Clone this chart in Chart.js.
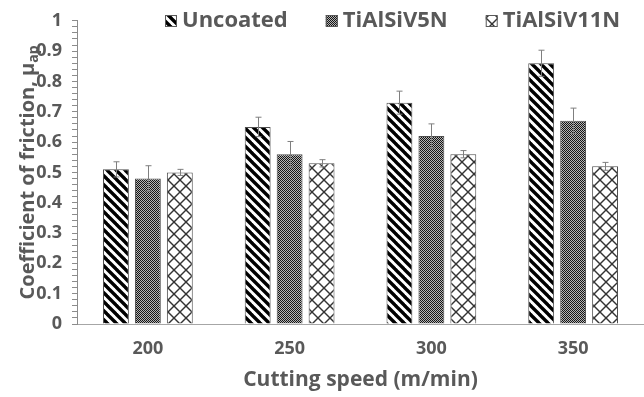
<!DOCTYPE html>
<html>
<head>
<meta charset="utf-8">
<script src="https://cdn.jsdelivr.net/npm/chart.js@4"></script>
<style>
html,body{margin:0;padding:0;background:#fff;}
#wrap{width:644px;height:397px;}
</style>
</head>
<body>
<div id="wrap"><canvas id="c" width="644" height="397"></canvas></div>
<script>
const categories = ['200', '250', '300', '350'];
const seriesNames = ['Uncoated', 'TiAlSiV5N', 'TiAlSiV11N'];
const uncoated = [0.51, 0.65, 0.73, 0.86];
const uncoatedErr = [0.025, 0.032, 0.038, 0.043];
const v5n = [0.48, 0.56, 0.62, 0.67];
const v5nErr = [0.042, 0.042, 0.04, 0.042];
const v11n = [0.50, 0.53, 0.56, 0.52];
const v11nErr = [0.01, 0.012, 0.012, 0.013];
const xTitle = 'Cutting speed (m/min)';
const yTitle = 'Coefficient of friction, μ';
const yTitleSub = 'ap';

const FONT = "'Open Sans', 'Liberation Sans', sans-serif";
const TXT = '#595959';

function makeTile(size, draw) {
  const c = document.createElement('canvas');
  c.width = size; c.height = size;
  const g = c.getContext('2d');
  draw(g, size);
  return document.getElementById('c').getContext('2d').createPattern(c, 'repeat');
}
const stripePat = makeTile(9, (g, s) => {
  g.fillStyle = '#fff'; g.fillRect(0, 0, s, s);
  g.strokeStyle = '#000'; g.lineWidth = 3.4;
  for (const k of [-s, 0, s]) { g.beginPath(); g.moveTo(k - 1, -1); g.lineTo(k + s + 1, s + 1); g.stroke(); }
});
const dotPat = makeTile(2, (g) => {
  g.fillStyle = '#151515'; g.fillRect(0, 0, 1, 1); g.fillRect(1, 1, 1, 1);
  g.fillStyle = '#b5b5b5'; g.fillRect(1, 0, 1, 1); g.fillRect(0, 1, 1, 1);
});
const diamondPat = makeTile(12, (g, s) => {
  g.fillStyle = '#fff'; g.fillRect(0, 0, s, s);
  g.strokeStyle = '#333'; g.lineWidth = 1.4;
  g.beginPath(); g.moveTo(0, 0); g.lineTo(s, s); g.stroke();
  g.beginPath(); g.moveTo(s, 0); g.lineTo(0, s); g.stroke();
});

const errs = [uncoatedErr, v5nErr, v11nErr];

const errorBars = {
  id: 'errorBars',
  afterDatasetsDraw(chart) {
    const ctx = chart.ctx; const ys = chart.scales.y;
    ctx.save(); ctx.strokeStyle = '#7f7f7f'; ctx.lineWidth = 1;
    chart.data.datasets.forEach((ds, di) => {
      const meta = chart.getDatasetMeta(di);
      meta.data.forEach((bar, i) => {
        const v = ds.data[i], e = errs[di][i];
        const x = Math.round(bar.x) + 0.5;
        const y1 = ys.getPixelForValue(v + e), y2 = ys.getPixelForValue(v - e);
        ctx.beginPath();
        ctx.moveTo(x, y1); ctx.lineTo(x, y2);
        ctx.moveTo(x - 3, y1); ctx.lineTo(x + 3, y1);
        ctx.moveTo(x - 3, y2); ctx.lineTo(x + 3, y2);
        ctx.stroke();
      });
    });
    ctx.restore();
  }
};

const customText = {
  id: 'customText',
  afterDraw(chart) {
    const ctx = chart.ctx; const ca = chart.chartArea;
    ctx.save();
    ctx.fillStyle = TXT;
    // x title
    ctx.font = 'bold 21px ' + FONT;
    ctx.textAlign = 'center'; ctx.textBaseline = 'middle';
    ctx.fillText(xTitle, (ca.left + ca.right) / 2, 380);
    // y title (rotated) with subscript
    ctx.save();
    ctx.translate(27, (ca.top + ca.bottom) / 2);
    ctx.rotate(-Math.PI / 2);
    ctx.font = 'bold 20px ' + FONT;
    const w1 = ctx.measureText(yTitle).width;
    ctx.font = 'bold 14px ' + FONT;
    const w2 = ctx.measureText(yTitleSub).width;
    const start = -(w1 + w2) / 2;
    ctx.textAlign = 'left'; ctx.textBaseline = 'alphabetic';
    ctx.font = 'bold 20px ' + FONT;
    ctx.fillText(yTitle, start, 7);
    ctx.font = 'bold 14px ' + FONT;
    ctx.fillText(yTitleSub, start + w1, 11);
    ctx.restore();
    // legend
    ctx.font = 'bold 22px ' + FONT;
    ctx.textAlign = 'left'; ctx.textBaseline = 'middle';
    let x = 165;
    chart.data.datasets.forEach((ds) => {
      ctx.fillStyle = ds.backgroundColor;
      ctx.fillRect(x, 15, 12, 12);
      ctx.strokeStyle = '#595959'; ctx.lineWidth = 1;
      ctx.strokeRect(x + 0.5, 15.5, 11, 11);
      ctx.fillStyle = TXT;
      ctx.fillText(ds.label, x + 17, 21);
      x += 17 + ctx.measureText(ds.label).width + 38;
    });
    ctx.restore();
  }
};

const values = [uncoated, v5n, v11n];
const pats = [stripePat, dotPat, diamondPat];

new Chart(document.getElementById('c'), {
  type: 'bar',
  data: {
    labels: categories,
    datasets: seriesNames.map((n, i) => ({
      label: n, data: values[i], backgroundColor: pats[i],
      borderColor: '#4d4d4d', borderWidth: 1,
      categoryPercentage: 0.676, barPercentage: 0.81
    }))
  },
  options: {
    responsive: false, animation: false,
    layout: { padding: { top: 14, right: 0, left: 0, bottom: 0 } },
    plugins: { legend: { display: false }, tooltip: { enabled: false } },
    scales: {
      x: {
        grid: { display: false },
        border: { display: true, color: '#a6a6a6', width: 1 },
        ticks: { color: TXT, font: { family: FONT, size: 18, weight: 'bold' }, padding: 6 },
        afterFit(s) { s.height = 73; }
      },
      y: {
        min: 0, max: 1,
        grid: { display: true, drawOnChartArea: false, drawTicks: true, tickLength: 5, color: '#8c8c8c' },
        border: { display: true, color: '#8c8c8c', width: 1 },
        ticks: {
          stepSize: 0.02, autoSkip: false, padding: 10, color: TXT,
          font: { family: FONT, size: 18, weight: 'bold' },
          callback(v) {
            const t = v * 10;
            if (Math.abs(t - Math.round(t)) < 1e-6) return String(Math.round(t) / 10);
            return '';
          }
        },
        afterFit(s) { s.width = 77; }
      }
    }
  },
  plugins: [errorBars, customText]
});
</script>
</body>
</html>
